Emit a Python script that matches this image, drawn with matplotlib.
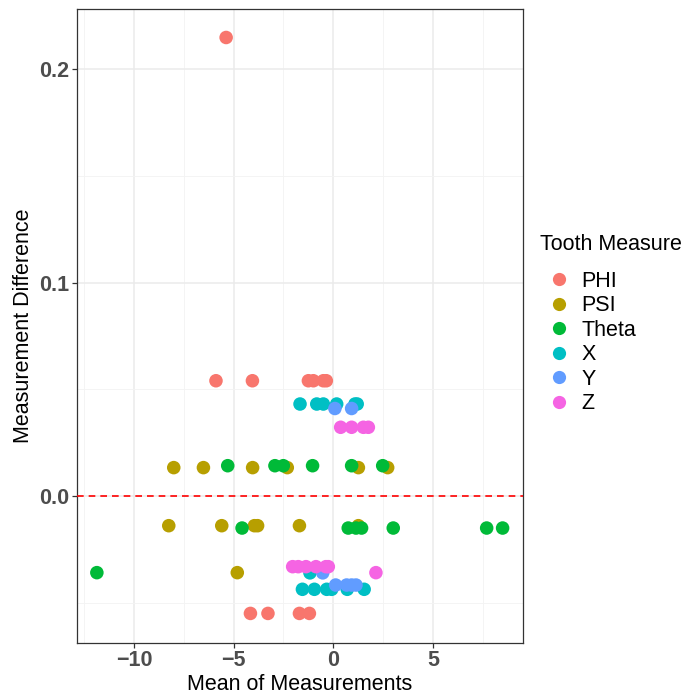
import numpy as np
import matplotlib.pyplot as plt
from matplotlib.lines import Line2D

plt.rcParams['font.family'] = ['Liberation Sans', 'DejaVu Sans']

measures = ['PHI', 'PSI', 'Theta', 'X', 'Y', 'Z']
colors = ['#F8766D', '#B79F00', '#00BA38', '#00BFC4', '#619CFF', '#F564E3']

phi_mean = [-5.38, -5.89, -4.06, -1.25, -1.0, -0.5, -0.35, -4.16, -3.28, -1.70, -1.20]
phi_diff = [0.2148, 0.054, 0.054, 0.054, 0.054, 0.054, 0.054, -0.055, -0.055, -0.055, -0.055]

psi_mean = [-8.01, -6.52, -4.05, -2.31, 1.26, 2.73, -8.26, -5.60, -3.96, -3.80, -1.70, 1.26, -4.82]
psi_diff = [0.0133, 0.0133, 0.0133, 0.0133, 0.0133, 0.0133,
            -0.0139, -0.0139, -0.0139, -0.0139, -0.0139, -0.0139, -0.0359]

theta_mean = [-5.30, -2.93, -2.51, -1.04, 0.92, 2.48, -4.58, 0.75, 1.14, 1.42, 3.01, 7.70, 8.50, -11.87]
theta_diff = [0.0142, 0.0142, 0.0142, 0.0142, 0.0142, 0.0142,
              -0.015, -0.015, -0.015, -0.015, -0.015, -0.015, -0.015, -0.0359]

x_mean = [-1.67, -0.83, -0.50, 0.17, 1.09, 1.20, -1.17, -1.55, -0.95, -0.33, -0.08, 0.70, 1.55]
x_diff = [0.0431, 0.0431, 0.0431, 0.0431, 0.0431, 0.0431, -0.036,
          -0.0437, -0.0437, -0.0437, -0.0437, -0.0437, -0.0437]

y_mean = [0.08, 0.92, -0.53, 0.12, 0.67, 0.92, 1.14]
y_diff = [0.041, 0.041, -0.036, -0.0417, -0.0417, -0.0417, -0.0417]

z_mean = [0.37, 0.92, 1.51, 1.76, -2.04, -1.76, -1.37, -0.87, -0.37, -0.25, 2.14]
z_diff = [0.0322, 0.0322, 0.0322, 0.0322, -0.0331, -0.0331, -0.0331, -0.0331, -0.0331, -0.0331, -0.0359]

series = [(phi_mean, phi_diff), (psi_mean, psi_diff), (theta_mean, theta_diff),
          (x_mean, x_diff), (y_mean, y_diff), (z_mean, z_diff)]

fig = plt.figure(figsize=(6.93, 6.95), dpi=100)
ax = fig.add_axes([0.1116, 0.0753, 0.6424, 0.9113])

ax.set_xlim(-12.85, 9.5)
ax.set_ylim(-0.0687, 0.228)

ax.set_xticks([-10, -5, 0, 5])
ax.set_xticks([-12.5, -7.5, -2.5, 2.5, 7.5], minor=True)
ax.set_yticks([0.0, 0.1, 0.2])
ax.set_yticks([-0.05, 0.05, 0.15], minor=True)
ax.set_xticklabels(['\u221210', '\u22125', '0', '5'])
ax.set_yticklabels(['0.0', '0.1', '0.2'])
ax.grid(True, which='major', color='#EBEBEB', linewidth=1.1)
ax.grid(True, which='minor', color='#F3F3F3', linewidth=0.6)
ax.set_axisbelow(True)

for (mx, dy), c in zip(series, colors):
    ax.scatter(mx, dy, s=95, color=c, edgecolors='none', zorder=3)

ax.axhline(0, color='red', linestyle=(0, (4, 3)), linewidth=1.2, zorder=4)

for sp in ax.spines.values():
    sp.set_color('#333333')
    sp.set_linewidth(0.9)
ax.tick_params(which='major', length=3.5, width=0.9, color='#333333',
               labelsize=15.5, labelcolor='#4D4D4D', pad=2)
ax.tick_params(which='minor', length=0)
for lab in ax.get_xticklabels() + ax.get_yticklabels():
    lab.set_fontweight('bold')

ax.set_xlabel('Mean of Measurements', fontsize=15.5, labelpad=2)
ax.set_ylabel('Measurement Difference', fontsize=15.5, labelpad=4)

# legend title placed on its own, ggplot leaves a wider gap under it
fig.text(0.779, 0.6475, 'Tooth Measure', fontsize=15.5, va='center', ha='left')
handles = [Line2D([], [], marker='o', linestyle='none', markersize=9.5,
                  markerfacecolor=c, markeredgecolor='none') for c in colors]
leg = fig.legend(handles, measures, loc='center left',
                 bbox_to_anchor=(0.789, 0.5072), frameon=False, fontsize=15.5,
                 handletextpad=0.5, labelspacing=0.16,
                 handlelength=1.1, borderaxespad=0, borderpad=0)

fig.savefig('out.png', dpi=100)
